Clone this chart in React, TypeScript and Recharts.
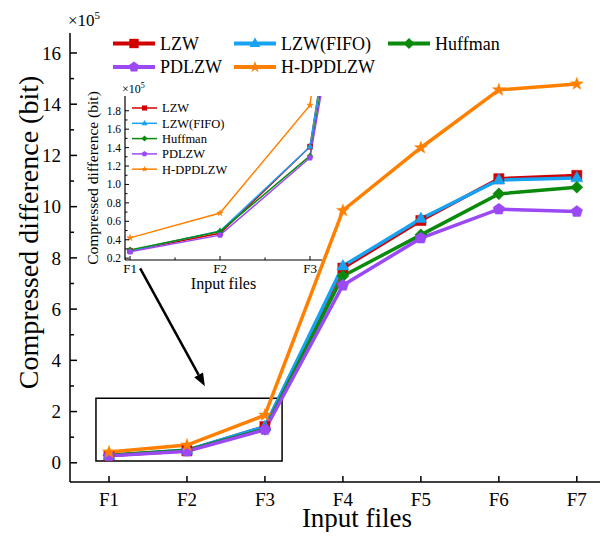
import React from 'react';
import { LineChart, Line, XAxis, YAxis, ReferenceArea, ReferenceLine, Legend } from 'recharts';

// values in units of 1e5 bit
const files = ['F1', 'F2', 'F3', 'F4', 'F5', 'F6', 'F7'];
const lzw = [0.28, 0.47, 1.41, 7.6, 9.46, 11.09, 11.22];
const lzwFifo = [0.28, 0.495, 1.41, 7.68, 9.53, 11.04, 11.12];
const huffman = [0.29, 0.49, 1.31, 7.29, 8.9, 10.5, 10.76];
const pdlzw = [0.27, 0.45, 1.29, 6.93, 8.77, 9.9, 9.81];
const hdpdlzw = [0.42, 0.69, 1.86, 9.85, 12.3, 14.56, 14.79];

const mainYTicks = [0, 1, 2, 3, 4, 5, 6, 7, 8, 9, 10, 11, 12, 13, 14, 15, 16];
const insetYTicks = [0.2, 0.3, 0.4, 0.5, 0.6, 0.7, 0.8, 0.9, 1.0, 1.1, 1.2, 1.3, 1.4, 1.5, 1.6, 1.7, 1.8];
const insetXTicks = [1, 1.5, 2, 2.5, 3];

const series = [
  { key: 'LZW', color: '#D00000', shape: 'square', values: lzw },
  { key: 'LZW(FIFO)', color: '#17A2F2', shape: 'triangle', values: lzwFifo },
  { key: 'Huffman', color: '#0A8A0A', shape: 'diamond', values: huffman },
  { key: 'PDLZW', color: '#9B48F5', shape: 'pentagon', values: pdlzw },
  { key: 'H-DPDLZW', color: '#FF8000', shape: 'star', values: hdpdlzw },
];

const data = files.map((f, i) => {
  const row: any = { x: i + 1, file: f };
  series.forEach((s) => (row[s.key] = s.values[i]));
  return row;
});

const FONT = '"Liberation Serif", "Times New Roman", serif';
const txt = { fontFamily: FONT, fontWeight: 400 } as const;

function poly(cx: number, cy: number, n: number, r: number, inner?: number) {
  const pts: string[] = [];
  const k = inner ? n * 2 : n;
  for (let i = 0; i < k; i++) {
    const rr = inner && i % 2 === 1 ? inner : r;
    const a = -Math.PI / 2 + (i * 2 * Math.PI) / k;
    pts.push(`${cx + rr * Math.cos(a)},${cy + rr * Math.sin(a)}`);
  }
  return 'M' + pts.join('L') + 'Z';
}

function markerPath(shape: string, cx: number, cy: number, r: number) {
  switch (shape) {
    case 'square':
      return `M${cx - r * 0.85},${cy - r * 0.85}h${r * 1.7}v${r * 1.7}h${-r * 1.7}Z`;
    case 'triangle':
      return `M${cx},${cy - r * 1.1}L${cx + r},${cy + r * 0.65}L${cx - r},${cy + r * 0.65}Z`;
    case 'diamond':
      return `M${cx},${cy - r}L${cx + r},${cy}L${cx},${cy + r}L${cx - r},${cy}Z`;
    case 'pentagon':
      return poly(cx, cy, 5, r);
    default:
      return poly(cx, cy, 5, r * 1.1, r * 0.45);
  }
}

const makeDot = (s: any, r: number) => (p: any) => {
  if (p.cx == null || p.cy == null) return <g key={`e-${s.key}-${p.index}`} />;
  return (
    <path key={`d-${s.key}-${p.index}`} d={markerPath(s.shape, p.cx, p.cy, r)} fill={s.color} stroke={s.color} strokeWidth={0.5} />
  );
};

const MainYTick = (p: any) => {
  const { x, y, payload } = p;
  const v = payload.value;
  const major = v % 2 === 0;
  const ax = x + 9;
  return (
    <g>
      <line x1={ax} x2={ax + (major ? 7 : 4)} y1={y} y2={y} stroke="#000" strokeWidth={1.5} />
      {major && (
        <text x={x} y={y} dy="0.35em" textAnchor="end" fontSize={19} style={txt} fill="#000">
          {v}
        </text>
      )}
    </g>
  );
};

const MainXTick = (p: any) => {
  const { x, y, payload } = p;
  const ay = y - 11;
  return (
    <g>
      <line x1={x} x2={x} y1={ay} y2={ay - 6} stroke="#000" strokeWidth={1.5} />
      <text x={x} y={y} dy="0.71em" textAnchor="middle" fontSize={19} style={txt} fill="#000">
        {files[payload.value - 1]}
      </text>
    </g>
  );
};

const InsetYTick = (p: any) => {
  const { x, y, payload } = p;
  const v = payload.value;
  const major = Math.round(v * 10) % 2 === 0;
  const ax = x + 4;
  return (
    <g>
      <line x1={ax} x2={ax + (major ? 4 : 2.5)} y1={y} y2={y} stroke="#000" strokeWidth={1} />
      {major && (
        <text x={x} y={y} dy="0.35em" textAnchor="end" fontSize={11.5} style={txt} fill="#000">
          {v.toFixed(1)}
        </text>
      )}
    </g>
  );
};

const InsetXTick = (p: any) => {
  const { x, y, payload } = p;
  const v = payload.value;
  const major = Number.isInteger(v);
  const ay = y - 4;
  return (
    <g>
      <line x1={x} x2={x} y1={ay} y2={ay - (major ? 4 : 2.5)} stroke="#000" strokeWidth={1} />
      {major && (
        <text x={x} y={y} dy="0.71em" textAnchor="middle" fontSize={13} style={txt} fill="#000">
          {files[v - 1]}
        </text>
      )}
    </g>
  );
};

const Arrow = (p: any) => {
  const { x1, y1, x2, y2 } = p;
  const a = Math.atan2(y2 - y1, x2 - x1);
  const L = 13;
  const W = 5;
  const bx = x2 - L * Math.cos(a);
  const by = y2 - L * Math.sin(a);
  const pts = `${x2},${y2} ${bx - W * Math.sin(a)},${by + W * Math.cos(a)} ${bx + W * Math.sin(a)},${by - W * Math.cos(a)}`;
  return (
    <g>
      <line x1={x1} y1={y1} x2={bx} y2={by} stroke="#000" strokeWidth={2.5} />
      <polygon points={pts} fill="#000" />
    </g>
  );
};

const LegendBox = ({ rows, colX, rowY, line, r, fs, sw, w, h }: any) => (
  <svg width={w} height={h} style={{ display: 'block', overflow: 'visible' }}>
    {rows.map((row: any[], ri: number) =>
      row.map((s: any, ci: number) => {
        const x = colX[ci];
        const y = rowY[ri];
        return (
          <g key={s.key}>
            <line x1={x} x2={x + line} y1={y} y2={y} stroke={s.color} strokeWidth={sw} />
            <path d={markerPath(s.shape, x + line / 2, y, r)} fill={s.color} />
            <text x={x + line + 5} y={y} dy="0.35em" fontSize={fs} style={txt} fill="#000">
              {s.key}
            </text>
          </g>
        );
      })
    )}
  </svg>
);

const MainYLabel = ({ viewBox }: any) => {
  const cx = viewBox.x + 28;
  const cy = viewBox.y + viewBox.height / 2 - 25;
  return (
    <g>
      <text x={cx} y={cy} transform={`rotate(-90 ${cx} ${cy})`} textAnchor="middle" dy="0.35em" fontSize={28} style={txt} fill="#000">
        Compressed difference (bit)
      </text>
      <text x={viewBox.x + viewBox.width - 2} y={viewBox.y - 7} fontSize={17} style={txt} fill="#000">
        ×10<tspan fontSize={11} dy={-7}>5</tspan>
      </text>
    </g>
  );
};

const MainXLabel = ({ viewBox }: any) => (
  <text x={viewBox.x + viewBox.width / 2 + 18} y={viewBox.y + 45} textAnchor="middle" fontSize={27} style={txt} fill="#000">
    Input files
  </text>
);

const InsetYLabel = ({ viewBox }: any) => {
  const cx = viewBox.x + 12.5;
  const cy = viewBox.y + viewBox.height / 2;
  return (
    <g>
      <text x={cx} y={cy} transform={`rotate(-90 ${cx} ${cy})`} textAnchor="middle" dy="0.35em" fontSize={15.5} style={txt} fill="#000">
        Compressed difference (bit)
      </text>
      <text x={viewBox.x + viewBox.width - 3} y={viewBox.y - 3} fontSize={12} style={txt} fill="#000">
        ×10<tspan fontSize={8} dy={-5}>5</tspan>
      </text>
    </g>
  );
};

const InsetXLabel = ({ viewBox }: any) => (
  <text x={viewBox.x + viewBox.width / 2} y={viewBox.y + 29} textAnchor="middle" fontSize={16} style={txt} fill="#000">
    Input files
  </text>
);

export default function App() {
  return (
    <div style={{ position: 'relative', width: 608, height: 540, margin: -8, background: '#fff', overflow: 'hidden' }}>
      <div style={{ position: 'absolute', left: 0, top: 0 }}>
        <LineChart width={608} height={540} data={data} margin={{ top: 33, right: 0, left: 0, bottom: 0 }}>
          <XAxis
            dataKey="x"
            type="number"
            domain={[0.5, 7.4]}
            allowDataOverflow
            ticks={[1, 2, 3, 4, 5, 6, 7]}
            height={58}
            tickSize={0}
            tickMargin={11}
            tick={<MainXTick />}
            axisLine={{ stroke: '#000', strokeWidth: 1.5 }}
            label={{ content: MainXLabel }}
          />
          <XAxis xAxisId="top" dataKey="x" type="number" domain={[0.5, 7.4]} orientation="top" height={0} tick={false} tickLine={false} axisLine={{ stroke: '#000', strokeWidth: 1.5 }} />
          <YAxis
            type="number"
            domain={[-0.75, 16.78]}
            allowDataOverflow
            ticks={mainYTicks}
            interval={0}
            width={70}
            tickSize={0}
            tickMargin={9}
            tick={<MainYTick />}
            axisLine={{ stroke: '#000', strokeWidth: 1.5 }}
            label={{ content: MainYLabel }}
          />
          <Legend
            layout="vertical"
            verticalAlign="middle"
            align="center"
            wrapperStyle={{ position: 'absolute', left: 105, top: 32, width: 400, height: 50 }}
            content={() => (
              <LegendBox
                rows={[series.slice(0, 3), series.slice(3)]}
                colX={[8, 129, 283]}
                rowY={[11.5, 35]}
                line={42}
                r={5.5}
                fs={18}
                sw={4}
                w={400}
                h={50}
              />
            )}
          />
          <ReferenceArea x1={0.833} x2={3.22} y1={0.07} y2={2.52} fill="none" fillOpacity={0} stroke="#000" strokeWidth={1.5} />
          <ReferenceLine segment={[{ x: 1.4, y: 7.59 }, { x: 2.23, y: 2.99 }]} shape={Arrow} />
          {series.map((s) => (
            <Line
              key={s.key}
              dataKey={s.key}
              type="linear"
              stroke={s.color}
              strokeWidth={3.5}
              dot={makeDot(s, 6)}
              activeDot={false}
              isAnimationActive={false}
            />
          ))}
        </LineChart>
      </div>
      <div style={{ position: 'absolute', left: 80, top: 76, pointerEvents: 'none' }}>
        <LineChart width={250} height={220} data={data} margin={{ top: 20, right: 8, left: 0, bottom: 0 }}>
          <XAxis
            dataKey="x"
            type="number"
            domain={[0.944, 3.133]}
            allowDataOverflow
            ticks={insetXTicks}
            interval={0}
            height={36}
            tickSize={0}
            tickMargin={4}
            tick={<InsetXTick />}
            axisLine={{ stroke: '#000', strokeWidth: 1.2 }}
            label={{ content: InsetXLabel }}
          />
          <XAxis xAxisId="top" dataKey="x" type="number" domain={[0.944, 3.133]} orientation="top" height={0} tick={false} tickLine={false} axisLine={{ stroke: '#000', strokeWidth: 1.2 }} />
          <YAxis
            type="number"
            domain={[0.18, 1.96]}
            allowDataOverflow
            ticks={insetYTicks}
            interval={0}
            width={45}
            tickSize={0}
            tickMargin={4}
            tick={<InsetYTick />}
            axisLine={{ stroke: '#000', strokeWidth: 1.2 }}
            label={{ content: InsetYLabel }}
          />
          <YAxis yAxisId="right" orientation="right" width={0} domain={[0.18, 1.96]} tick={false} tickLine={false} axisLine={{ stroke: '#000', strokeWidth: 1.2 }} />
          <Legend
            layout="vertical"
            verticalAlign="middle"
            align="center"
            wrapperStyle={{ position: 'absolute', left: 50, top: 22, width: 120, height: 85 }}
            content={() => (
              <LegendBox
                rows={series.map((s) => [s])}
                colX={[2]}
                rowY={[10, 25.3, 40.6, 55.9, 71.2]}
                line={25}
                r={3}
                fs={12.5}
                sw={1.5}
                w={120}
                h={85}
              />
            )}
          />
          {series.map((s) => (
            <Line
              key={s.key}
              dataKey={s.key}
              type="linear"
              stroke={s.color}
              strokeWidth={1.5}
              dot={makeDot(s, 3)}
              activeDot={false}
              isAnimationActive={false}
            />
          ))}
        </LineChart>
      </div>
    </div>
  );
}
